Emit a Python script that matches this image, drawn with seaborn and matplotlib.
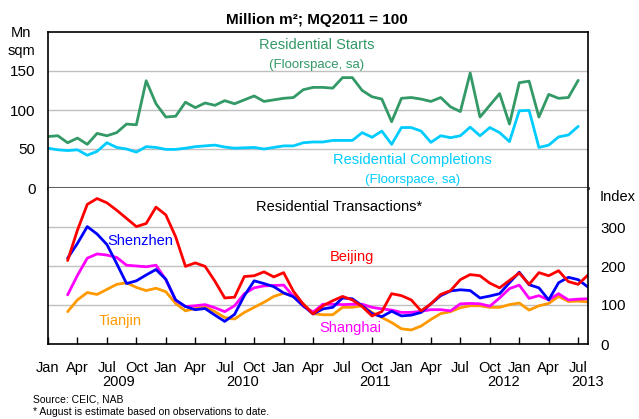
import numpy as np
import pandas as pd
import matplotlib
matplotlib.use("Agg")
import matplotlib.pyplot as plt
import seaborn as sns

# ---------------- data ----------------
# months counted from Jan 2009 (=0)
months_top = list(range(0, 55))        # Jan 2009 .. Jul 2013
months_trans = list(range(2, 56))      # Mar 2009 .. Aug 2013

starts = [66, 67, 58, 64, 56, 70, 67, 71, 82, 81,
          137.5, 108, 91, 92, 110, 103, 109, 106, 112, 108,
          113, 118, 111, 113, 115, 116, 126, 129, 129, 128,
          141.5, 141.5, 125, 117, 114, 85, 115, 116, 114, 111,
          116, 104, 98, 147.5, 91, 106, 121, 82, 135, 137,
          91, 120, 115, 116, 138]

completions = [51, 49, 48, 49, 42, 47, 58, 52, 50, 46,
               53, 52, 49.5, 49.5, 51, 53, 54, 55, 52.5, 51,
               51.5, 52, 50, 52, 54, 54, 58, 59, 59, 61,
               61, 61, 71, 65, 73, 56, 77.5, 77.5, 73, 58.5,
               67, 64.5, 67, 78, 67, 77.5, 71, 59.5, 99, 99.5,
               52, 55, 65.5, 68, 79]

beijing = [214, 292, 358, 373, 362, 343, 322, 301, 309, 351,
           331, 275, 199, 208, 199, 161, 118, 120, 173, 175,
           185, 172, 183, 135, 102, 77, 98, 111, 122, 113,
           96, 72, 83, 129, 124, 113, 85, 103, 127, 137,
           165, 178, 175, 156, 144, 163, 182, 153, 183, 175,
           188, 160, 153, 177]

shenzhen = [220, 258, 301, 282, 255, 206, 155, 162, 177, 191,
            166, 113, 96, 88, 91, 74, 58, 76, 124, 162,
            155, 147, 131, 121, 98, 77, 90, 94, 118, 116,
            98, 78, 70, 84, 72, 74, 81, 103, 124, 136,
            139, 137, 118, 123, 129, 157, 184, 152, 144, 113,
            157, 171, 165, 146]

shanghai = [126, 176, 220, 231, 228, 222, 202, 200, 198, 202,
            165, 112, 96, 98, 101, 93, 83, 98, 129, 144,
            149, 150, 151, 122, 97, 82, 102, 102, 101, 102,
            102, 94, 90, 87, 81, 81, 84, 88, 88, 85,
            103, 104, 103, 97, 118, 142, 151, 117, 124, 113,
            129, 113, 115, 116]

tianjin = [83, 113, 132, 127, 140, 153, 157, 145, 137, 143,
           134, 104, 85, 91, 96, 83, 68, 64, 81, 94,
           107, 122, 130, 124, 103, 78, 75, 75, 94, 94,
           98, 81, 68, 55, 39, 36, 46, 63, 78, 83,
           93, 98, 98, 94, 94, 101, 105, 87, 98, 104,
           122, 109, 110, 108]

month_names = ["Jan", "Apr", "Jul", "Oct"]
year_labels = ["2009", "2010", "2011", "2012", "2013"]

# ---------------- style ----------------
sns.set_theme(style="white")
plt.rcParams["font.family"] = ["Liberation Sans", "DejaVu Sans"]

W, H = 639, 419
fig = plt.figure(figsize=(W / 100, H / 100), dpi=100)

def fx(px):
    return px / W

def fy(py):
    return 1 - py / H

left, right = 48, 588
top, mid, bot = 32, 188, 344
ax_top = fig.add_axes([fx(left), fy(mid), fx(right - left), (mid - top) / H])
ax_bot = fig.add_axes([fx(left), fy(bot), fx(right - left), (bot - mid) / H])

GREEN = "#339966"
CYAN = "#00CCFF"
RED = "#FF0000"
BLUE = "#0000FF"
MAGENTA = "#FF00FF"
ORANGE = "#FF9900"
GRID = "#C0C0C0"
LW = 2.0

# ---- top panel ----
sns.lineplot(x=months_top, y=starts, ax=ax_top, color=GREEN, linewidth=LW)
sns.lineplot(x=months_top, y=completions, ax=ax_top, color=CYAN, linewidth=LW)
ax_top.set_xlim(0, 55)
ax_top.set_ylim(0, 200)
ax_top.set_yticks([0, 50, 100, 150])
ax_top.set_yticklabels(["0", "50", "100", "150"])
ax_top.set_xticks([])
ax_top.yaxis.grid(True, color=GRID, linewidth=1)
ax_top.tick_params(axis="y", length=0, pad=9, labelsize=11, colors="black")
for s in ["left", "right", "top"]:
    ax_top.spines[s].set_color("black")
    ax_top.spines[s].set_linewidth(1.2)
ax_top.spines["bottom"].set_color("#606060")
ax_top.spines["bottom"].set_linewidth(2.2)
ax_top.set_xlabel("")
ax_top.set_ylabel("")

# ---- bottom panel ----
sns.lineplot(x=months_trans, y=tianjin, ax=ax_bot, color=ORANGE, linewidth=LW)
sns.lineplot(x=months_trans, y=shanghai, ax=ax_bot, color=MAGENTA, linewidth=LW)
sns.lineplot(x=months_trans, y=shenzhen, ax=ax_bot, color=BLUE, linewidth=LW)
sns.lineplot(x=months_trans, y=beijing, ax=ax_bot, color=RED, linewidth=LW)
ax_bot.set_xlim(0, 55)
ax_bot.set_ylim(0, 400)
ax_bot.yaxis.tick_right()
ax_bot.set_yticks([0, 100, 200, 300])
ax_bot.set_yticklabels(["0", "100", "200", "300"])
ax_bot.yaxis.grid(True, color=GRID, linewidth=1)
ax_bot.tick_params(axis="y", length=0, pad=9, labelsize=11, colors="black")
xt = list(range(0, 55, 3))
ax_bot.set_xticks(xt)
ax_bot.set_xticklabels([month_names[i % 4] for i in range(len(xt))])
ax_bot.tick_params(axis="x", direction="in", length=5, width=1, pad=12,
                   labelsize=10.5, colors="black", bottom=True)
ax_bot.spines["top"].set_visible(False)
for s in ["left", "right", "bottom"]:
    ax_bot.spines[s].set_color("black")
    ax_bot.spines[s].set_linewidth(1.2)
ax_bot.set_xlabel("")
ax_bot.set_ylabel("")

# year labels under the month labels
year_pos = [7.2, 19.8, 33.3, 46.4, 55.0]
for yl, xp in zip(year_labels, year_pos):
    ax_bot.text(xp, -0.245, yl, transform=ax_bot.get_xaxis_transform(),
                ha="center", va="center", fontsize=10.5, color="black")

# ---- texts ----
fig.text(fx(317), fy(20), "Million m²; MQ2011 = 100", ha="center", va="center",
         fontsize=11, fontweight="bold", color="black")
fig.text(fx(21), fy(42), "Mn\nsqm", ha="center", va="center", fontsize=10.5,
         color="black", linespacing=1.3)
fig.text(fx(618), fy(197), "Index", ha="center", va="center", fontsize=10.5, color="black")

fig.text(fx(317), fy(45), "Residential Starts", ha="center", va="center",
         fontsize=10.5, color=GREEN)
fig.text(fx(317), fy(65), "(Floorspace, sa)", ha="center", va="center",
         fontsize=9.5, color=GREEN)
fig.text(fx(412), fy(160), "Residential Completions", ha="center", va="center",
         fontsize=10.5, color=CYAN)
fig.text(fx(413), fy(180), "(Floorspace, sa)", ha="center", va="center",
         fontsize=9.5, color=CYAN)
fig.text(fx(339), fy(207), "Residential Transactions*", ha="center", va="center",
         fontsize=10.5, color="black")
fig.text(fx(140), fy(241), "Shenzhen", ha="center", va="center", fontsize=10.5, color=BLUE)
fig.text(fx(352), fy(257), "Beijing", ha="center", va="center", fontsize=10.5, color=RED)
fig.text(fx(120), fy(321), "Tianjin", ha="center", va="center", fontsize=10.5, color=ORANGE)
fig.text(fx(350), fy(328), "Shanghai", ha="center", va="center", fontsize=10.5, color=MAGENTA)

fig.text(fx(33), fy(399), "Source: CEIC, NAB", ha="left", va="center", fontsize=7.5, color="black")
fig.text(fx(33), fy(412), "* August is estimate based on observations to date.", ha="left",
         va="center", fontsize=7.5, color="black")

fig.savefig("out.png", dpi=100, facecolor="white")
